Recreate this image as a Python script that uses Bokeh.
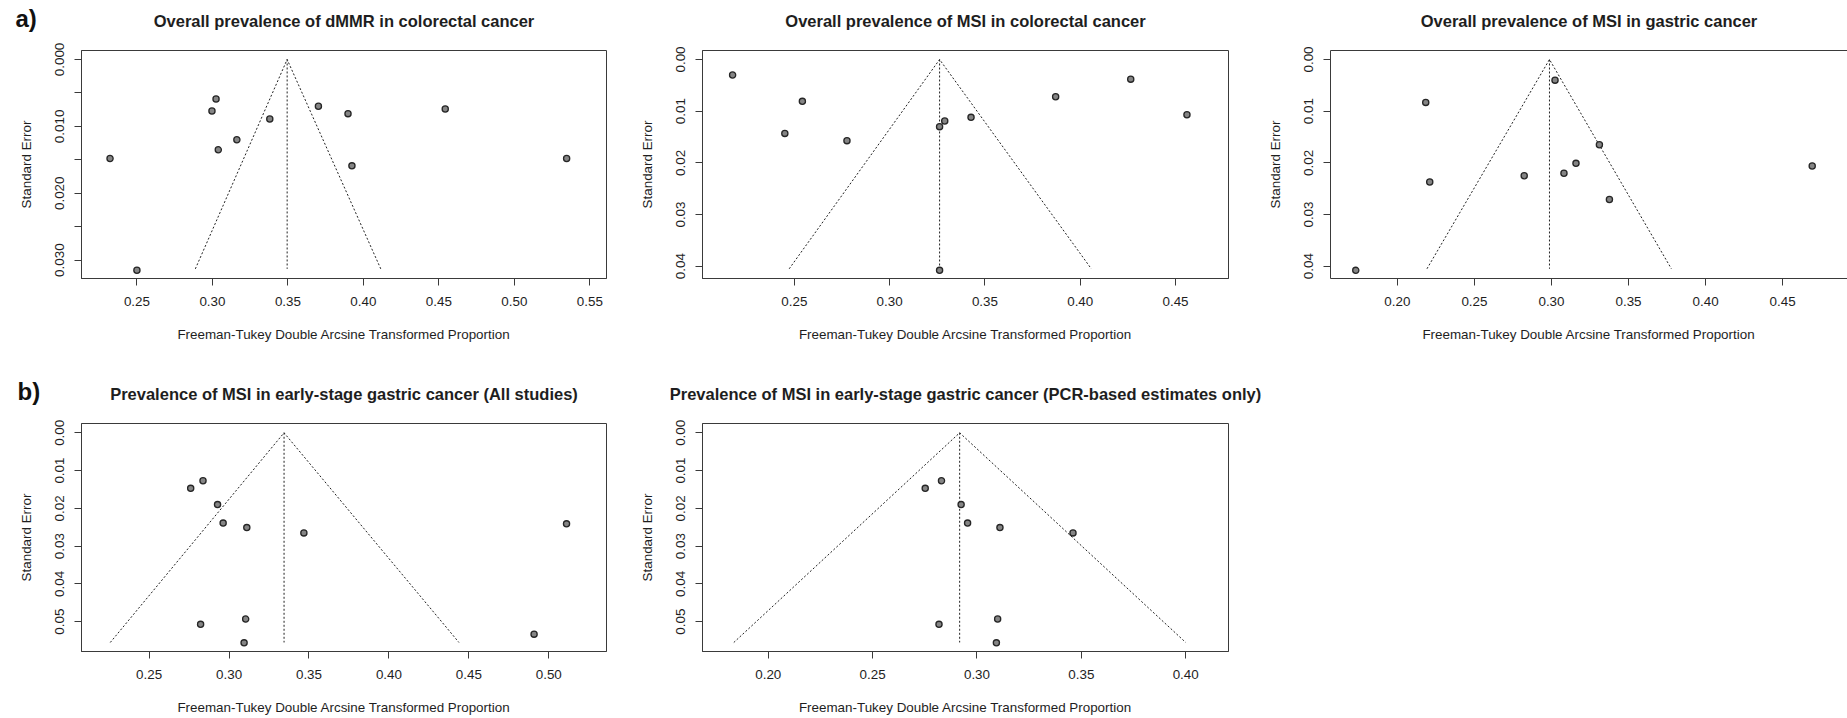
from bokeh.plotting import figure
from bokeh.layouts import row, column
from bokeh.models import Range1d, FixedTicker, LinearAxis, Spacer, Title
from bokeh.embed import file_html
from bokeh.resources import INLINE

FONT = "Liberation Sans"
INK = "#1e1e1e"
BOX = "#3a3a3a"
XLAB = "Freeman-Tukey Double Arcsine Transformed Proportion"
YLAB = "Standard Error"

# ---------------- data ----------------
# a) panel 1
p1_title = "Overall prevalence of dMMR in colorectal cancer"
p1_est = [0.2322, 0.2500, 0.3024, 0.2997, 0.3039, 0.3162, 0.3380, 0.3702, 0.3898, 0.3924, 0.4542, 0.5346]
p1_se = [0.0148, 0.0315, 0.0059, 0.0077, 0.0135, 0.0120, 0.0089, 0.0070, 0.0081, 0.0159, 0.0074, 0.0148]
p1_center = 0.3495
p1_funnel = [0.2887, 0.4115, 0.0313]          # lower x, upper x, se at funnel base
p1_xticks = [0.25, 0.30, 0.35, 0.40, 0.45, 0.50, 0.55]
p1_xlabels = ["0.25", "0.30", "0.35", "0.40", "0.45", "0.50", "0.55"]
p1_yticks = [0.000, 0.005, 0.010, 0.015, 0.020, 0.025, 0.030]
p1_ylabels = ["0.000", "", "0.010", "", "0.020", "", "0.030"]

# a) panel 2
p2_title = "Overall prevalence of MSI in colorectal cancer"
p2_est = [0.2176, 0.2542, 0.2450, 0.2776, 0.3262, 0.3289, 0.3427, 0.3871, 0.4265, 0.4560, 0.3262]
p2_se = [0.0030, 0.0081, 0.0143, 0.0157, 0.0130, 0.0119, 0.0112, 0.0072, 0.0038, 0.0107, 0.0408]
p2_center = 0.3262
p2_funnel = [0.2473, 0.4058, 0.0405]
p2_xticks = [0.25, 0.30, 0.35, 0.40, 0.45]
p2_xlabels = ["0.25", "0.30", "0.35", "0.40", "0.45"]
p2_yticks = [0.00, 0.01, 0.02, 0.03, 0.04]
p2_ylabels = ["0.00", "0.01", "0.02", "0.03", "0.04"]

# a) panel 3
p3_title = "Overall prevalence of MSI in gastric cancer"
p3_est = [0.1730, 0.2184, 0.2210, 0.2823, 0.3023, 0.3081, 0.3159, 0.3311, 0.3376, 0.4692]
p3_se = [0.0408, 0.0083, 0.0237, 0.0225, 0.0040, 0.0220, 0.0201, 0.0165, 0.0271, 0.0206]
p3_center = 0.2987
p3_funnel = [0.2192, 0.3778, 0.0405]
p3_xticks = [0.20, 0.25, 0.30, 0.35, 0.40, 0.45]
p3_xlabels = ["0.20", "0.25", "0.30", "0.35", "0.40", "0.45"]
p3_yticks = [0.00, 0.01, 0.02, 0.03, 0.04]
p3_ylabels = ["0.00", "0.01", "0.02", "0.03", "0.04"]

# b) panel 4
p4_title = "Prevalence of MSI in early-stage gastric cancer (All studies)"
p4_est = [0.2760, 0.2837, 0.2928, 0.2963, 0.3111, 0.3468, 0.5111, 0.2822, 0.3104, 0.3094, 0.4908]
p4_se = [0.0147, 0.0127, 0.0190, 0.0239, 0.0251, 0.0265, 0.0241, 0.0507, 0.0493, 0.0556, 0.0533]
p4_center = 0.3344
p4_funnel = [0.2257, 0.4438, 0.0555]
p4_xticks = [0.25, 0.30, 0.35, 0.40, 0.45, 0.50]
p4_xlabels = ["0.25", "0.30", "0.35", "0.40", "0.45", "0.50"]
p4_yticks = [0.00, 0.01, 0.02, 0.03, 0.04, 0.05]
p4_ylabels = ["0.00", "0.01", "0.02", "0.03", "0.04", "0.05"]

# b) panel 5
p5_title = "Prevalence of MSI in early-stage gastric cancer (PCR-based estimates only)"
p5_est = [0.2752, 0.2830, 0.2924, 0.2955, 0.3110, 0.3460, 0.2818, 0.3099, 0.3093]
p5_se = [0.0147, 0.0127, 0.0190, 0.0239, 0.0251, 0.0265, 0.0507, 0.0493, 0.0556]
p5_center = 0.2917
p5_funnel = [0.1835, 0.4000, 0.0555]
p5_xticks = [0.20, 0.25, 0.30, 0.35, 0.40]
p5_xlabels = ["0.20", "0.25", "0.30", "0.35", "0.40"]
p5_yticks = [0.00, 0.01, 0.02, 0.03, 0.04, 0.05]
p5_ylabels = ["0.00", "0.01", "0.02", "0.03", "0.04", "0.05"]


def style_axis(ax, ticks, labels, vertical=False):
    ax.ticker = FixedTicker(ticks=ticks)
    ax.major_label_overrides = {t: l for t, l in zip(ticks, labels)}
    ax.axis_line_color = BOX
    ax.axis_line_width = 1
    ax.major_tick_line_color = BOX
    ax.major_tick_out = 7
    ax.major_tick_in = 0
    ax.minor_tick_line_color = None
    ax.major_label_text_font = FONT
    ax.major_label_text_font_size = "13.4px"
    ax.major_label_text_color = INK
    ax.axis_label_text_font = FONT
    ax.axis_label_text_font_size = "13.4px"
    ax.axis_label_text_font_style = "normal"
    ax.axis_label_text_color = INK
    if vertical:
        ax.major_label_orientation = "vertical"


def make_panel(title, est, se, center, funnel, xr, yr, xticks, xlabels, yticks, ylabels,
               width, height, bl, br, bt, bb, open_right=False, tag=None, tag_offset=0):
    p = figure(width=width, height=height, output_backend="svg", toolbar_location=None,
               title=None, x_range=Range1d(*xr), y_range=Range1d(*yr),
               min_border_left=bl, min_border_right=br, min_border_top=bt, min_border_bottom=bb)
    p.background_fill_color = "white"
    p.border_fill_color = "white"
    p.grid.visible = False

    xa = p.below[0]
    ya = p.left[0]
    style_axis(xa, xticks, xlabels)
    style_axis(ya, yticks, ylabels, vertical=True)
    xa.axis_label = XLAB
    ya.axis_label = YLAB
    xa.major_label_standoff = 11
    xa.axis_label_standoff = 18
    ya.major_label_standoff = 10
    ya.axis_label_standoff = 19

    if open_right:
        p.outline_line_color = None
        top = LinearAxis(ticker=FixedTicker(ticks=[]), axis_line_color=BOX,
                         major_tick_line_color=None, minor_tick_line_color=None,
                         major_label_text_font_size="1px", major_tick_out=0,
                         major_tick_in=0, major_label_standoff=0)
        p.add_layout(top, "above")
    else:
        p.outline_line_color = BOX
        p.outline_line_width = 1

    # blank spacer between the box and the titles
    p.add_layout(Title(text=" ", text_font_size="1px", standoff=26, vertical_align="middle"), "above")
    p.add_layout(Title(text=title, align="center", vertical_align="middle", standoff=-18,
                       text_font=FONT, text_font_size="16.5px", text_font_style="bold",
                       text_color=INK), "above")
    if tag is not None:
        p.add_layout(Title(text=tag, align="left", vertical_align="middle", standoff=-26,
                           offset=tag_offset, text_font=FONT, text_font_size="24px",
                           text_font_style="bold", text_color="#111111"), "above")

    lo, hi, fse = funnel
    p.line([lo, center, hi], [fse, 0.0, fse], line_color="#222222", line_width=1, line_dash="2 2")
    p.line([center, center], [0.0, fse], line_color="#222222", line_width=1, line_dash="2 2")
    p.scatter(est, se, marker="circle", size=6.2, fill_color="#858585",
              line_color="#262626", line_width=1.3)
    return p


H1, H2 = 373, 345
WA, WB, WC = 625, 639, 583
pa1 = make_panel(p1_title, p1_est, p1_se, p1_center, p1_funnel, (0.2133, 0.5610), (0.03274, -0.00134),
                 p1_xticks, p1_xlabels, p1_yticks, p1_ylabels,
                 WA, H1, 81, 19, 50, 95, tag="a)", tag_offset=-66)
pa2 = make_panel(p2_title, p2_est, p2_se, p2_center, p2_funnel, (0.2018, 0.4778), (0.04238, -0.00174),
                 p2_xticks, p2_xlabels, p2_yticks, p2_ylabels,
                 WB, H1, 77, 36, 50, 95)
pa3 = make_panel(p3_title, p3_est, p3_se, p3_center, p3_funnel, (0.1566, 0.4921), (0.04238, -0.00174),
                 p3_xticks, p3_xlabels, p3_yticks, p3_ylabels,
                 WC, H1, 60, 0, 50, 95, open_right=True)
pb1 = make_panel(p4_title, p4_est, p4_se, p4_center, p4_funnel, (0.2077, 0.5361), (0.05789, -0.00246),
                 p4_xticks, p4_xlabels, p4_yticks, p4_ylabels,
                 WA, H2, 81, 19, 50, 67, tag="b)", tag_offset=-64)
pb2 = make_panel(p5_title, p5_est, p5_se, p5_center, p5_funnel, (0.1685, 0.4205), (0.05789, -0.00246),
                 p5_xticks, p5_xlabels, p5_yticks, p5_ylabels,
                 WB, H2, 77, 36, 50, 67)

layout = column(row(pa1, pa2, pa3), row(pb1, pb2, Spacer(width=WC, height=H2)))

open("out.html", "w").write(file_html(layout, INLINE))
